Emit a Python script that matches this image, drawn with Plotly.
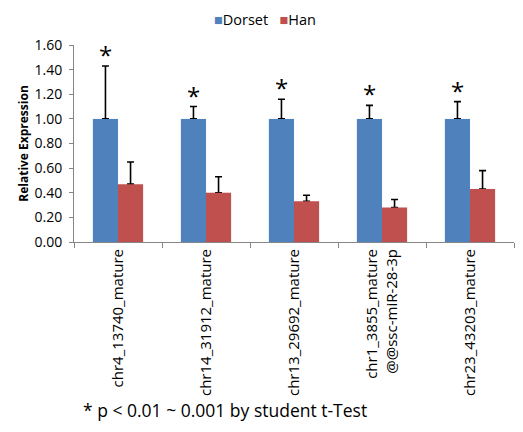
import plotly.graph_objects as go

categories = ["chr4_13740_mature", "chr14_31912_mature", "chr13_29692_mature",
              "chr1_3855_mature<br>@@ssc-miR-28-3p", "chr23_43203_mature"]
dorset = [1.00, 1.00, 1.00, 1.00, 1.00]
dorset_err = [0.43, 0.10, 0.16, 0.11, 0.14]
han = [0.47, 0.40, 0.33, 0.28, 0.43]
han_err = [0.18, 0.13, 0.05, 0.065, 0.15]
yticks = [0.0, 0.2, 0.4, 0.6, 0.8, 1.0, 1.2, 1.4, 1.6]

font = "Open Sans, Noto Sans, sans-serif"
BLUE = "#4F81BD"
RED = "#C0504D"

fig = go.Figure()
# error-bar holders (drawn first so the real bars hide the lower cap)
for vals, errs, grp in [(dorset, dorset_err, "d"), (han, han_err, "h")]:
    fig.add_trace(go.Bar(
        x=categories, y=vals, offsetgroup=grp, showlegend=False, hoverinfo="skip",
        marker=dict(color="rgba(0,0,0,0)"),
        error_y=dict(type="data", array=errs, arrayminus=[0]*len(errs), symmetric=False,
                     color="black", thickness=1.6, width=3.5)))
fig.add_trace(go.Bar(name="Dorset", x=categories, y=dorset, offsetgroup="d",
                     marker=dict(color=BLUE, line=dict(width=0))))
fig.add_trace(go.Bar(name="Han", x=categories, y=han, offsetgroup="h",
                     marker=dict(color=RED, line=dict(width=0))))

for c, v, e in zip(categories, dorset, dorset_err):
    fig.add_annotation(x=c, y=v + e, text="*", showarrow=False, xshift=-12.5,
                       yanchor="bottom", yshift=-7,
                       font=dict(size=24, color="black", family=font))

# legend (top of figure)
fig.add_annotation(xref="paper", yref="paper", x=0.435, y=1 + 37 / 197, xanchor="center", yanchor="top",
                   text=f"<span style='color:{BLUE}'>■</span>Dorset   <span style='color:{RED}'>■</span>Han",
                   showarrow=False, font=dict(size=14.5, color="black", family=font))

fig.add_annotation(xref="paper", yref="paper", x=0.343, y=-0.853, xanchor="center", yanchor="middle",
                   text="* p < 0.01 ~ 0.001 by student t-Test",
                   showarrow=False, font=dict(size=17.5, color="black", family=font))

# page has an 8px body margin, so figure coords = reference coords - 8
fig.update_layout(
    width=523, height=432,
    margin=dict(l=66, r=17, t=37, b=198),
    paper_bgcolor="white", plot_bgcolor="white",
    barmode="group", bargap=0.43, bargroupgap=0,
    showlegend=False,
    font=dict(family=font, color="black"),
    xaxis=dict(showline=True, linecolor="#868686", linewidth=1, ticks="outside",
               tickson="boundaries", tickcolor="#868686", ticklen=5,
               tickangle=-90, tickfont=dict(size=15), automargin=False),
    yaxis=dict(range=[0, 1.6], tickvals=yticks, ticktext=[f"{v:.2f}" for v in yticks],
               showline=True, linecolor="#868686", linewidth=1, ticks="outside",
               tickcolor="#868686", ticklen=4, showgrid=False, zeroline=False,
               tickfont=dict(size=14), automargin=False, ticklabelstandoff=4,
               title=dict(text="<b>Relative Expression</b>", font=dict(size=12), standoff=3)),
)
fig.write_html("out.html")
